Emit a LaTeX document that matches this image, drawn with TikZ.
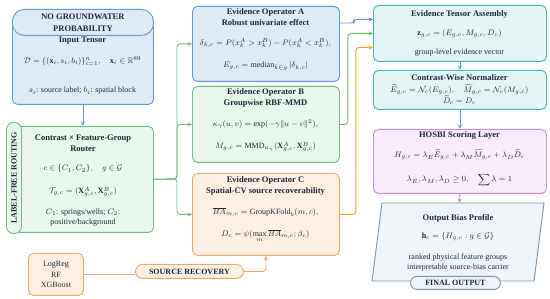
\documentclass[tikz,border=0pt]{standalone}
\usepackage{amsmath, amssymb}
\usepackage{fontspec}
\setmainfont{Liberation Serif}
\usepackage{tikz}
\usetikzlibrary{arrows.meta}
\definecolor{ink}{RGB}{28, 40, 56}
\definecolor{blueline}{RGB}{91, 155, 213}
\definecolor{bluefill}{RGB}{222, 235, 247}
\definecolor{greenline}{RGB}{110, 190, 130}
\definecolor{greenfill}{RGB}{232, 246, 236}
\definecolor{greenwire}{RGB}{108, 192, 90}
\definecolor{orangeline}{RGB}{240, 168, 104}
\definecolor{orangefill}{RGB}{253, 240, 226}
\definecolor{orangewire}{RGB}{245, 166, 35}
\definecolor{tealline}{RGB}{70, 180, 180}
\definecolor{tealfill}{RGB}{226, 245, 244}
\definecolor{purpleline}{RGB}{195, 144, 212}
\definecolor{purplefill}{RGB}{248, 236, 250}
\definecolor{grayline}{RGB}{128, 146, 165}
\definecolor{grayfill}{RGB}{238, 244, 248}
\tikzset{
	box/.style={draw, line width=0.9pt, rounded corners=5pt, anchor=north west, inner sep=0pt},
	ttl/.style={font=\bfseries\fontsize{8.5}{11}\selectfont, text=ink, inner sep=0pt, align=center},
	txt/.style={font=\fontsize{8}{10.5}\selectfont, text=ink, inner sep=0pt, align=center},
	wire/.style={line width=0.9pt, rounded corners=3pt, -{Stealth[length=4.5pt, width=4pt]}}
}

\begin{document}
\begin{tikzpicture}[x=1pt, y=-1pt]
			\fill[white] (0,0) rectangle (550,299);
			\useasboundingbox (0,0) rectangle (550,299);

			% Input tensor
			\node[box, draw=blueline, fill=bluefill, minimum width=141, minimum height=82] (inbox) at (12,22) {};
			\node[box, draw=blueline, fill=bluefill, rounded corners=12pt, minimum width=141, minimum height=26] (nogw) at (12,9) {};
			\node[ttl, font=\bfseries\fontsize{8.5}{12}\selectfont] (nogwtext) at (nogw.center) {NO GROUNDWATER\\PROBABILITY};
			\node[ttl] (intitle) at (82.5,41) {Input Tensor};
			\node[txt] (ineq) at (82.5,61) {$\mathcal{D}=\{(\mathbf{x}_i,s_i,b_i)\}_{i=1}^{n},\quad \mathbf{x}_i\in\mathbb{R}^{89}$};
			\node[txt] (inlab) at (82.5,91) {$s_i$: source label; $b_i$: spatial block};

			% Router
			\node[box, draw=greenline, fill=greenfill, minimum width=141, minimum height=106] (router) at (12,126) {};
			\node[box, draw=greenline, fill=greenfill, rounded corners=7pt, minimum width=15, minimum height=111] (lfr) at (6,122) {};
			\node[ttl, font=\bfseries\fontsize{8}{10}\selectfont, rotate=90] (lfrtext) at (lfr.center) {LABEL-FREE ROUTING};
			\node[ttl] (rtitle) at (83,143.5) {Contrast × Feature-Group\\Router};
			\node[txt] (rcg) at (83,169) {$c\in\{C_1,C_2\},\quad g\in\mathcal{G}$};
			\node[txt] (rtg) at (83,192) {$\mathcal{T}_{g,c}=(\mathbf{X}^A_{g,c},\mathbf{X}^B_{g,c})$};
			\node[txt] (rnote) at (83,217.5) {$C_1$: springs/wells; $C_2$:\\positive/background};

			% Source models
			\node[box, draw=orangeline, fill=orangefill, minimum width=55, minimum height=42] (models) at (28,253) {};
			\node[txt] (modtext) at (models.center) {LogReg\\RF\\XGBoost};
			\node[box, draw=orangeline, fill=orangefill, rounded corners=7pt, minimum width=108, minimum height=14] (srcrec) at (135,264) {};
			\node[ttl, font=\bfseries\fontsize{8}{10}\selectfont] (srctext) at (srcrec.center) {SOURCE RECOVERY};

			% Operator A
			\node[box, draw=blueline, fill=bluefill, minimum width=147, minimum height=75] (opA) at (192,6) {};
			\node[ttl] (aTitle) at (265.5,17.5) {Evidence Operator A\\Robust univariate effect};
			\node[txt] (aDelta) at (265.5,43) {$\delta_{k,c}=P(x_k^A>x_k^B)-P(x_k^A<x_k^B),$};
			\node[txt] (aE) at (265.5,66) {$E_{g,c}=\mathrm{median}_{k\in g}\,|\delta_{k,c}|$};

			% Operator B
			\node[box, draw=greenline, fill=greenfill, minimum width=147, minimum height=76] (opB) at (192,86) {};
			\node[ttl] (bTitle) at (265.5,97.5) {Evidence Operator B\\Groupwise RBF-MMD};
			\node[txt] (bKappa) at (265.5,124) {$\kappa_\gamma(u,v)=\exp(-\gamma\|u-v\|^2),$};
			\node[txt] (bM) at (265.5,147) {$M_{g,c}=\mathrm{MMD}_{\kappa_\gamma}(\mathbf{X}^A_{g,c},\mathbf{X}^B_{g,c})$};

			% Operator C
			\node[box, draw=orangeline, fill=orangefill, minimum width=147, minimum height=82] (opC) at (192,173) {};
			\node[ttl] (cTitle) at (265.5,185.5) {Evidence Operator C\\Spatial-CV source recoverability};
			\node[txt] (cBA) at (265.5,212) {$\overline{BA}_{m,c}=\mathrm{GroupKFold}_b(m,c),$};
			\node[txt] (cD) at (265.5,236) {$D_c=\psi(\max\limits_m\overline{BA}_{m,c};\beta_c)$};

			% Tensor assembly
			\node[box, draw=tealline, fill=tealfill, minimum width=173, minimum height=56] (tensor) at (373,5) {};
			\node[ttl] (tTitle) at (459.5,14) {Evidence Tensor Assembly};
			\node[txt] (tZ) at (459.5,34) {$\mathbf{z}_{g,c}=(E_{g,c},M_{g,c},D_c)$};
			\node[txt] (tNote) at (459.5,53) {group-level evidence vector};

			% Normalizer
			\node[box, draw=tealline, fill=tealfill, minimum width=173, minimum height=39] (norm) at (373,70) {};
			\node[ttl] (nTitle) at (459.5,78) {Contrast-Wise Normalizer};
			\node[txt] (nEM) at (459.5,90) {$\widetilde{E}_{g,c}=\mathcal{N}_c(E_{g,c}),\quad \widetilde{M}_{g,c}=\mathcal{N}_c(M_{g,c})$};
			\node[txt] (nD) at (459.5,100.5) {$\widetilde{D}_c=D_c$};

			% HOSBI
			\node[box, draw=purpleline, fill=purplefill, minimum width=173, minimum height=64] (hosbi) at (373,129) {};
			\node[ttl] (hTitle) at (459.5,135) {HOSBI Scoring Layer};
			\node[txt] (hH) at (459.5,155) {$H_{g,c}=\lambda_E\widetilde{E}_{g,c}+\lambda_M\widetilde{M}_{g,c}+\lambda_D\widetilde{D}_c$};
			\node[txt] (hL) at (459.5,180) {$\lambda_E,\lambda_M,\lambda_D\geq 0,\quad \displaystyle\sum\lambda=1$};

			% Output profile
			\filldraw[draw=grayline, fill=grayfill, line width=0.9pt] (382,203) -- (544,203) -- (534,281) -- (372,281) -- cycle;
			\coordinate (outtop) at (459.5,203);
			\node[ttl] (oTitle) at (458,218) {Output Bias Profile};
			\node[txt] (oH) at (458,237) {$\mathbf{h}_c=\{H_{g,c}:g\in\mathcal{G}\}$};
			\node[txt] (oNote) at (458,262.5) {ranked physical feature groups\\interpretable source-bias carrier};
			\node[box, draw=grayline, fill=grayfill, rounded corners=6.5pt, minimum width=90, minimum height=13] (final) at (410,276) {};
			\node[ttl, font=\bfseries\fontsize{8}{10}\selectfont] (finaltext) at (final.center) {FINAL OUTPUT};

			% Connectors
			\coordinate (fork) at (177,179);
			\draw[wire, blueline] (inbox.south) -- (router.north);
			\foreach \op in {opA, opB, opC}
				\draw[wire, greenline] (router.east) -- (fork) |- (\op.west);
			\draw[wire, blueline] ([yshift=-17pt]opA.north east) -- ++(14,0) |- ([yshift=14pt]tensor.west);
			\draw[wire, greenwire] (opB.east) -- ++(8,0) |- (tensor.west);
			\draw[wire, orangewire] (opC.east) -- ++(16,0) |- ([yshift=-14pt]tensor.west);
			\draw[wire, tealline] (tensor.south) -- (norm.north);
			\draw[wire, tealline] (norm.south) -- (hosbi.north);
			\draw[wire, purpleline] (hosbi.south) -- (outtop);
			\draw[line width=0.9pt, orangeline] (models.east) -- (models.east -| srcrec.west);
			\draw[wire, orangeline] (srcrec.east) -| (opC.south);

		\end{tikzpicture}
\end{document}
